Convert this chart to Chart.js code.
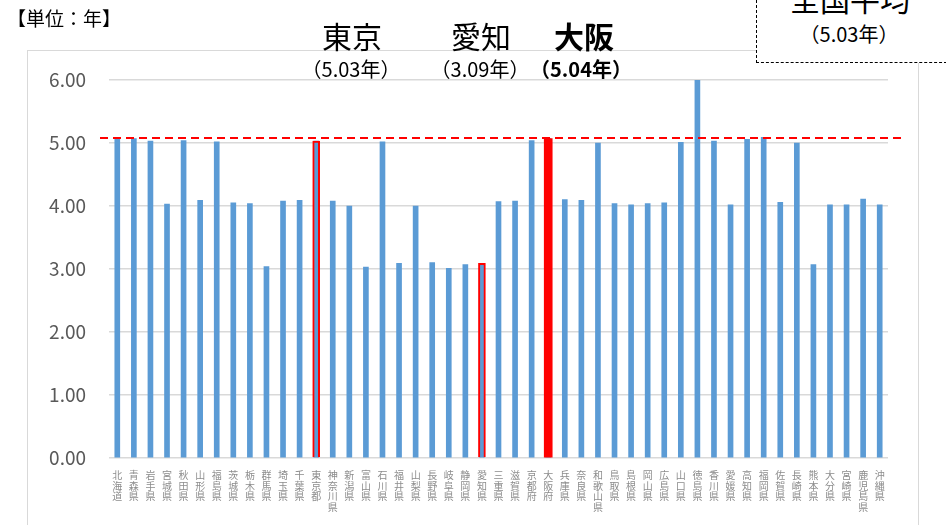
<!DOCTYPE html>
<html lang="ja">
<head>
<meta charset="utf-8">
<script src="https://cdn.jsdelivr.net/npm/chart.js@4.4.6/dist/chart.umd.min.js"></script>
<style>
  html, body { margin: 0; padding: 0; background: #fff; }
  #wrap { position: relative; width: 946px; height: 525px; overflow: hidden; font-family: "Noto Sans CJK JP", sans-serif; }
  #frame { position: absolute; left: 27px; top: 50px; width: 890px; height: 480px; border: 1px solid #d9d9d9; }
  #chart-box { position: absolute; left: 0; top: 0; width: 946px; height: 525px; }
  .txt { position: absolute; transform: translateX(-50%); white-space: nowrap; color: #000; line-height: 1; }
  #avg-box { position: absolute; left: 756px; top: -10px; width: 189px; height: 71px; border: 1px dashed #000; background: #fff; }
</style>
</head>
<body>
<div id="wrap">
  <div id="frame"></div>
  <div id="chart-box"><canvas id="years-chart"></canvas></div>
  <div class="txt" style="left:7px;top:8px;transform:none;font-size:19px;">【単位：年】</div>
  <div class="txt" style="left:352px;top:20px;font-size:30px;">東京</div>
  <div class="txt" style="left:351px;top:59px;font-size:20px;">（5.03年）</div>
  <div class="txt" style="left:481px;top:20px;font-size:30px;">愛知</div>
  <div class="txt" style="left:480px;top:59px;font-size:20px;">（3.09年）</div>
  <div class="txt" style="left:584px;top:20px;font-size:30px;font-weight:bold;">大阪</div>
  <div class="txt" style="left:581px;top:59px;font-size:20px;font-weight:bold;">（5.04年）</div>
  <div id="avg-box"></div>
  <div class="txt" style="left:850px;top:-17px;font-size:30px;">全国平均</div>
  <div class="txt" style="left:849px;top:24px;font-size:20px;">（5.03年）</div>
</div>
<script>
const prefectures = [
  '北海道', '青森県', '岩手県', '宮城県', '秋田県', '山形県', '福島県', '茨城県', '栃木県', '群馬県',
  '埼玉県', '千葉県', '東京都', '神奈川県', '新潟県', '富山県', '石川県', '福井県', '山梨県', '長野県',
  '岐阜県', '静岡県', '愛知県', '三重県', '滋賀県', '京都府', '大阪府', '兵庫県', '奈良県', '和歌山県',
  '鳥取県', '島根県', '岡山県', '広島県', '山口県', '徳島県', '香川県', '愛媛県', '高知県', '福岡県',
  '佐賀県', '長崎県', '熊本県', '大分県', '宮崎県', '鹿児島県', '沖縄県'
]

const years = [
  5.08, 5.07, 5.03, 4.03, 5.04, 4.09, 5.02, 4.05, 4.04, 3.04,
  4.08, 4.09, 5.03, 4.08, 4.00, 3.03, 5.02, 3.09, 4.00, 3.10,
  3.01, 3.07, 3.09, 4.07, 4.08, 5.04, 5.07, 4.10, 4.09, 5.00,
  4.04, 4.02, 4.04, 4.05, 5.01, 6.00, 5.03, 4.02, 5.06, 5.09,
  4.06, 5.00, 3.07, 4.02, 4.02, 4.11, 4.02
]

const yTicks = [0, 1, 2, 3, 4, 5, 6]
const outlined = ['東京都', '愛知県']
const featured = ['大阪府']
const averageLine = 5.08

const BLUE = '#5b9bd5'
const RED = '#ff0000'

const pick = (names) => years.map((v, i) => (names.includes(prefectures[i]) ? v : null))

// dashed national-average line, runs a little past the plot edges
const averageLinePlugin = {
  id: 'averageLine',
  afterDatasetsDraw(chart) {
    const { ctx, chartArea, scales } = chart
    const y = scales.y.getPixelForValue(averageLine)
    ctx.save()
    ctx.strokeStyle = RED
    ctx.lineWidth = 2
    ctx.setLineDash([8, 5])
    ctx.beginPath()
    ctx.moveTo(chartArea.left - 9, y)
    ctx.lineTo(chartArea.right + 14, y)
    ctx.stroke()
    ctx.restore()
  }
}

new Chart(document.getElementById('years-chart'), {
  type: 'bar',
  data: {
    labels: prefectures.map((p) => p.split('')),
    datasets: [
      {
        label: 'featured',
        data: pick(featured),
        backgroundColor: RED,
        barThickness: 8
      },
      {
        label: 'outlined',
        data: pick(outlined),
        backgroundColor: BLUE,
        borderColor: RED,
        borderWidth: 2,
        borderSkipped: 'bottom',
        barThickness: 7
      },
      {
        label: 'years',
        data: years,
        backgroundColor: BLUE,
        barThickness: 5
      }
    ]
  },
  options: {
    responsive: true,
    maintainAspectRatio: false,
    animation: false,
    grouped: false,
    layout: { padding: { left: 0, right: 58, top: 80, bottom: 0 } },
    plugins: { legend: { display: false }, tooltip: { enabled: false } },
    scales: {
      x: {
        grid: { display: false },
        border: { display: false },
        ticks: {
          autoSkip: false,
          maxRotation: 0,
          minRotation: 0,
          padding: 4,
          color: '#8c8c8c',
          font: { family: '"Noto Sans CJK JP"', size: 10, lineHeight: 1.05 }
        },
        afterFit(scale) { scale.height = 67 }
      },
      y: {
        min: 0,
        max: 6,
        afterBuildTicks(scale) { scale.ticks = yTicks.map((v) => ({ value: v })) },
        grid: { color: '#d9d9d9', lineWidth: 1.5, drawTicks: false },
        border: { display: false },
        ticks: {
          padding: 23,
          color: '#595959',
          font: { family: '"Noto Sans CJK JP"', size: 19 },
          callback: (v) => Number(v).toFixed(2)
        },
        afterFit(scale) { scale.width = 109 }
      }
    }
  },
  plugins: [averageLinePlugin]
})
</script>
</body>
</html>
